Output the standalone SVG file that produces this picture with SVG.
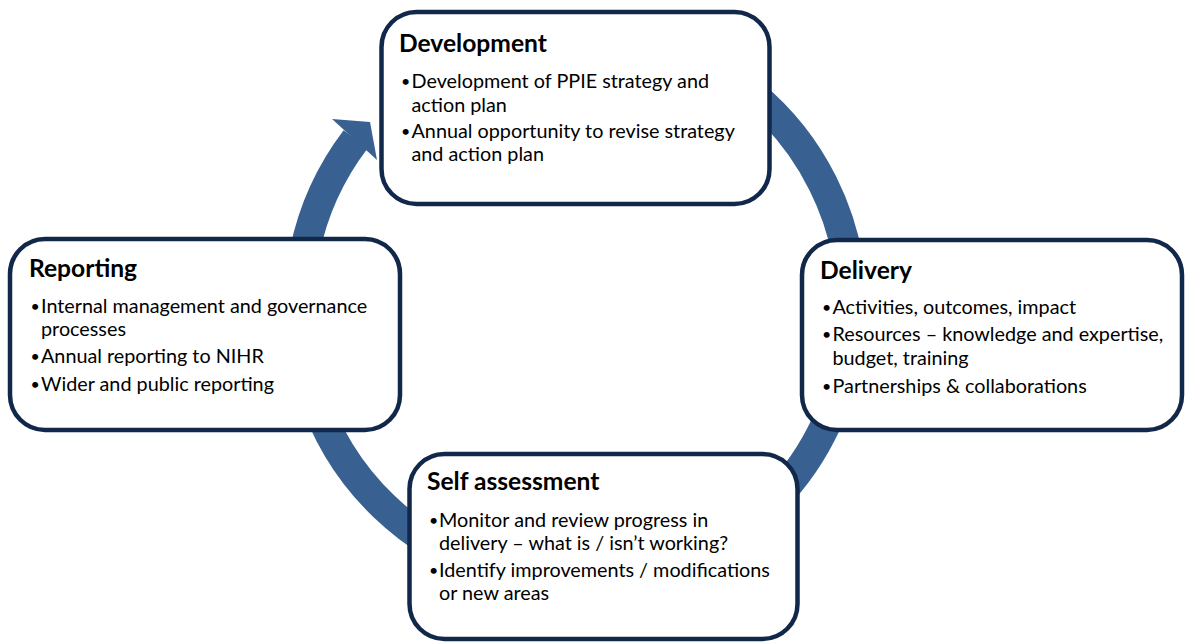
<svg xmlns="http://www.w3.org/2000/svg" width="1185" height="643" viewBox="0 0 1185 643">
<style>
.box{fill:#fff;stroke:#12284a;stroke-width:4.5}
.t{font-family:Lato,"Liberation Sans",sans-serif;font-weight:bold;font-size:24.6px;fill:#000}
.b{font-family:Lato,"Liberation Sans",sans-serif;font-size:19.8px;fill:#000}
.d{font-family:Lato,"Liberation Sans",sans-serif;font-size:16px;fill:#000}
.ring{fill:none;stroke:#386191;stroke-width:30}
</style>
<rect width="1185" height="643" fill="#fff"/>
<g id="connectors">
<path class="ring" d="M480.9,47.2 A276.5,276.5 0 1 1 355.6,139.4"/>
<polygon points="332,119 370,122 377,160" fill="#386191"/>
</g>
<g id="development">
<rect class="box" x="381.5" y="12" width="388" height="192" rx="35"/>
<text class="t" x="399" y="52">Development</text>
<text class="d" x="401" y="87">•</text><text class="b" x="411.5" y="88">Development of PPIE strategy and</text>
<text class="b" x="411.5" y="112">action plan</text>
<text class="d" x="401" y="137">•</text><text class="b" x="411.5" y="138">Annual opportunity to revise strategy</text>
<text class="b" x="411.5" y="161">and action plan</text>
</g>
<g id="delivery">
<rect class="box" x="802" y="240" width="380" height="190" rx="35"/>
<text class="t" x="820" y="279">Delivery</text>
<text class="d" x="822" y="313">•</text><text class="b" x="832.5" y="314">Activities, outcomes, impact</text>
<text class="d" x="822" y="340">•</text><text class="b" x="832.5" y="341">Resources – knowledge and expertise,</text>
<text class="b" x="832.5" y="365">budget, training</text>
<text class="d" x="822" y="392">•</text><text class="b" x="832.5" y="393">Partnerships &amp; collaborations</text>
</g>
<g id="self-assessment">
<rect class="box" x="409.5" y="454" width="388" height="185" rx="35"/>
<text class="t" x="427" y="490">Self assessment</text>
<text class="d" x="429" y="526">•</text><text class="b" x="439" y="527">Monitor and review progress in</text>
<text class="b" x="439" y="550">delivery – what is / isn’t working?</text>
<text class="d" x="429" y="576">•</text><text class="b" x="439" y="577">Identify improvements / modifications</text>
<text class="b" x="439" y="600">or new areas</text>
</g>
<g id="reporting">
<rect class="box" x="10" y="239" width="390" height="191" rx="35"/>
<text class="t" x="29" y="277">Reporting</text>
<text class="d" x="30.5" y="312">•</text><text class="b" x="41" y="313">Internal management and governance</text>
<text class="b" x="41" y="336">processes</text>
<text class="d" x="30.5" y="362">•</text><text class="b" x="41" y="363">Annual reporting to NIHR</text>
<text class="d" x="30.5" y="390">•</text><text class="b" x="41" y="391">Wider and public reporting</text>
</g>
</svg>
